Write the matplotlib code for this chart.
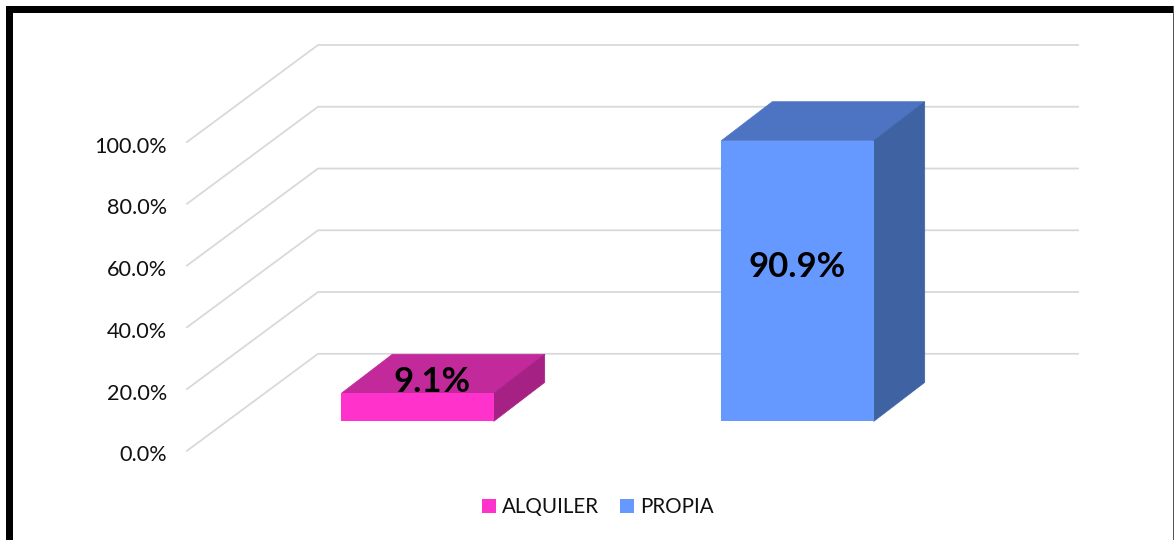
import matplotlib
matplotlib.use("Agg")
import matplotlib.pyplot as plt
from matplotlib.patches import Polygon, Rectangle, Patch

categories = ["ALQUILER", "PROPIA"]
values = [9.1, 90.9]
value_labels = ["9.1%", "90.9%"]
ticks = [0, 20, 40, 60, 80, 100]
tick_labels = ["0.0%", "20.0%", "40.0%", "60.0%", "80.0%", "100.0%"]

W, H = 1174, 540
PX_PER_CAT = 380.0
PX_PER_PCT = 3.088
X0_PX, Y0_PX = 417.5, 421.4


def dx(px):
    return px / PX_PER_CAT


def dy(px):
    return px / PX_PER_PCT


plt.rcParams["font.family"] = ["Lato", "DejaVu Sans"]
fig = plt.figure(figsize=(W / 100, H / 100), dpi=100, facecolor="white")
ax = fig.add_axes([0, 0, 1, 1])
ax.set_xlim(-X0_PX / PX_PER_CAT, (W - X0_PX) / PX_PER_CAT)
ax.set_ylim(-(H - Y0_PX) / PX_PER_PCT, Y0_PX / PX_PER_PCT)
ax.axis("off")

# Walls and gridlines
wall_x = dx(187 - X0_PX)
wall_right = dx(1078 - X0_PX)
floor_y = -dy(29.4)
depth_x, depth_y = dx(131), dy(97)
for t, lab in zip(ticks, tick_labels):
    y = t + floor_y
    ax.plot([wall_x, wall_x + depth_x, wall_right],
            [y, y + depth_y, y + depth_y],
            color="#D9D9D9", lw=1.3, solid_joinstyle="miter", zorder=1)
    ax.annotate(lab, (wall_x, y), xytext=(-14.4, -3.3), textcoords="offset points",
                ha="right", va="center", fontsize=15.6, color="#111111")

# 3-D bars
width = dx(152.4)
bar_dx, bar_dy = dx(51), dy(39)
front = ["#FF33CC", "#6699FF"]
top = ["#C22A9C", "#4D74C2"]
side = ["#A52184", "#3F62A3"]
label_dx = [15, 0]
label_offset_y = [8.2, 4.5]
for i, v in enumerate(values):
    l, r = i - width / 2, i + width / 2
    ax.add_patch(Polygon([(l, v), (r, v), (r + bar_dx, v + bar_dy), (l + bar_dx, v + bar_dy)],
                         fc=top[i], ec=top[i], lw=0.5, zorder=3))
    ax.add_patch(Polygon([(r, 0), (r + bar_dx, bar_dy), (r + bar_dx, v + bar_dy), (r, v)],
                         fc=side[i], ec=side[i], lw=0.5, zorder=3))
    ax.bar(i, v, width=width, color=front[i], zorder=4)
    ax.text(i + dx(label_dx[i]), v / 2 + label_offset_y[i], value_labels[i],
            ha="center", va="center", fontsize=25, fontweight="bold",
            color="black", zorder=5)

# Legend
handles = [Patch(fc=c, ec="none", label=n) for c, n in zip(front, categories)]
ax.legend(handles=handles, ncol=2, frameon=False, fontsize=14.8,
          loc="center", bbox_to_anchor=(597.8 / W, 1 - 507 / H),
          bbox_transform=fig.transFigure,
          handlelength=0.68, handleheight=0.68, handletextpad=0.29,
          columnspacing=1.05, labelcolor="#111111")

# Frame
tf = fig.transFigure
fig.add_artist(Rectangle((6 / W, 0), 7 / W, 1 - 6 / H, transform=tf, fc="black", ec="none"))
fig.add_artist(Rectangle((6 / W, 1 - 13 / H), 1 - 6 / W, 7 / H, transform=tf, fc="black", ec="none"))
fig.add_artist(Rectangle((1172.5 / W, 0), 1.5 / W, 1 - 6 / H, transform=tf, fc="#555555", ec="none"))

fig.savefig("out.png", dpi=100, facecolor="white")
